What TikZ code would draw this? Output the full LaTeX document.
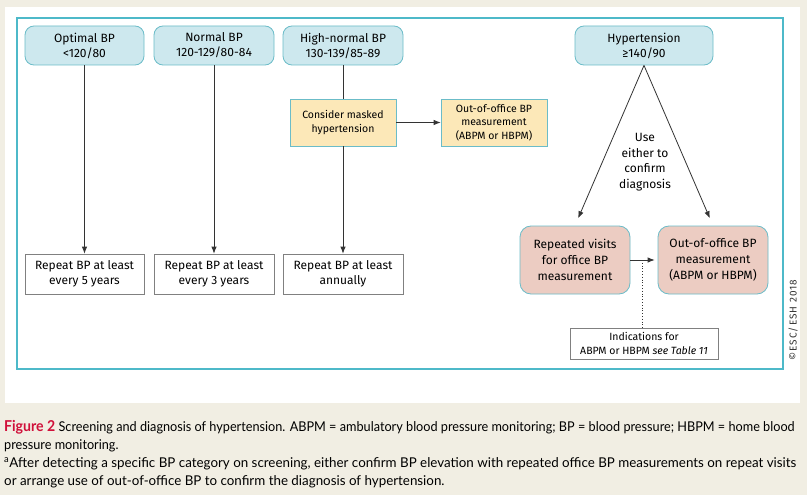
\documentclass[tikz,border=0pt]{standalone}
\usepackage{fontspec}
\setmainfont{Fira Sans}
\newfontfamily\capnarrow[FakeStretch=0.94]{Lato}
\newfontfamily\capwide[FakeStretch=0.99]{Lato}
\usepackage{tikz}
\usetikzlibrary{arrows.meta,calc}
\definecolor{pagebeige}{HTML}{F1EEE3}
\definecolor{frameteal}{HTML}{4DB9C9}
\definecolor{boxteal}{HTML}{6BBCC8}
\definecolor{catblue}{HTML}{CDE8EE}
\definecolor{noteyellow}{HTML}{FCE8B8}
\definecolor{visitpink}{HTML}{ECCCC2}
\definecolor{linegray}{HTML}{333333}
\definecolor{figred}{HTML}{D0103A}
\tikzstyle{connector} = [line width=0.8pt, draw=linegray]
\tikzstyle{arrowed} = [connector, -{Latex[length=7pt,width=5.5pt]}]
\tikzstyle{category} = [draw=boxteal, fill=catblue, line width=0.8pt, rounded corners=9pt, minimum height=39pt, align=center, inner sep=0pt, font=\fontsize{12}{15}\selectfont]
\tikzstyle{repeatbox} = [draw=gray, fill=white, line width=0.8pt, minimum width=119pt, minimum height=40pt, align=center, inner sep=0pt, font=\fontsize{12}{15}\selectfont]
\tikzstyle{notebox} = [draw=boxteal, fill=noteyellow, line width=0.8pt, minimum width=106pt, minimum height=47pt, align=center, inner sep=0pt, font=\fontsize{10.5}{13.5}\selectfont]
\tikzstyle{confirmbox} = [draw=boxteal, fill=visitpink, line width=0.8pt, rounded corners=11pt, minimum width=110pt, minimum height=68pt, align=center, inner sep=0pt, font=\fontsize{12}{16}\selectfont]

\begin{document}
\begin{tikzpicture}[x=1pt, y=-1pt]
    \useasboundingbox (0,0) rectangle (807,495);
    \fill[pagebeige] (0,0) rectangle (807,495);
    \fill[white] (5,7) rectangle (800,403);
    \draw[frameteal, line width=1.2pt] (17,18) rectangle (783,369);

    % BP categories
    \node (opt) [category, minimum width=119pt] at (84.5,45.5) {Optimal BP\\<120/80};
    \node (norm) [category, minimum width=120pt] at (214,45.5) {Normal BP\\120-129/80-84};
    \node (hnorm) [category, minimum width=120pt] at (343,45.5) {High-normal BP\\130-139/85-89};
    \node (hyp) [category, minimum width=138pt] at (644,45.5) {Hypertension\\≥140/90};

    \node (mask) [notebox] at (343,122.5) {Consider masked\\hypertension};
    \node (ooo1) [notebox] at (494,122.5) {Out-of-office BP\\measurement\\(ABPM or HBPM)};

    \node (rep5) [repeatbox] at (84.5,274) {Repeat BP at least\\every 5 years};
    \node (rep3) [repeatbox, minimum width=120pt] at (214,274) {Repeat BP at least\\every 3 years};
    \node (rep1) [repeatbox, minimum width=120pt] at (343,274) {Repeat BP at least\\annually};

    \node (use) [align=center, font=\fontsize{12}{15.5}\selectfont] at (645,162) {Use\\either to\\confirm\\diagnosis};
    \node (visits) [confirmbox] at (575,260) {Repeated visits\\for office BP\\measurement};
    \node (ooo2) [confirmbox] at (713,260) {Out-of-office BP\\measurement\\(ABPM or HBPM)};
    \node (ind) [draw=gray, fill=white, line width=0.8pt, minimum width=148pt, minimum height=31pt, align=center, inner sep=0pt, font=\fontsize{10.5}{14}\selectfont] at (644,343.5) {Indications for\\ABPM or HBPM \textit{see Table 11}};

    \node (copy) [rotate=90, font=\fontsize{10}{10}\selectfont\addfontfeature{LetterSpace=10}, text=linegray] at (793,320) {©ESC/ESH 2018};

    \draw [arrowed] (opt) -- (rep5);
    \draw [arrowed] (norm) -- (rep3);
    \draw [connector] (hnorm) -- (mask);
    \draw [arrowed] (mask) -- (rep1);
    \draw [arrowed] (mask) -- (ooo1);
    \draw [arrowed, shorten >=8pt] (hyp.south) -- (visits.north);
    \draw [arrowed, shorten >=8pt] (hyp.south) -- (ooo2.north);
    \draw [arrowed, shorten >=3pt] (visits) -- (ooo2);
    \coordinate (dot) at (642,260);
    \draw [connector, dotted, line width=1pt] (dot) -- (dot |- ind.north);

    % caption
    \node (cap) [anchor=north west, align=left, inner sep=0pt, font=\fontsize{13.5}{18}\selectfont] at (4,420.5) {%
        {\capnarrow\textcolor{figred}{\bfseries\fontsize{15}{18}\selectfont Figure 2} Screening and diagnosis of hypertension. ABPM = ambulatory blood pressure monitoring; BP = blood pressure; HBPM = home blood}\\
        {\capnarrow pressure monitoring.}\\
        {\capwide\textsuperscript{a}After detecting a specific BP category on screening, either confirm BP elevation with repeated office BP measurements on repeat visits}\\
        {\capwide or arrange use of out-of-office BP to confirm the diagnosis of hypertension.}};
\end{tikzpicture}
\end{document}
